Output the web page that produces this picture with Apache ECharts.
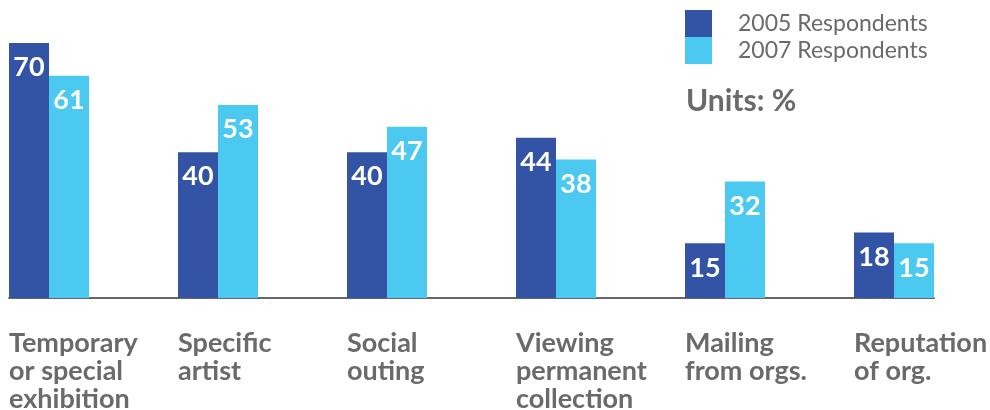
<!DOCTYPE html>
<html>
<head>
<meta charset="utf-8">
<script src="https://cdn.jsdelivr.net/npm/echarts@6/dist/echarts.min.js"></script>
<style>
  html, body { margin: 0; padding: 0; background: #ffffff; }
  #chart { width: 990px; height: 410px; }
</style>
</head>
<body>
<div id="chart"></div>
<script>
// Reasons for visiting, share of respondents (%)
const categories = [
  'Temporary\nor special\nexhibition',
  'Specific\nartist',
  'Social\nouting',
  'Viewing\npermanent\ncollection',
  'Mailing\nfrom orgs.',
  'Reputation\nof org.'
];
const respondents2005 = [70, 40, 40, 44, 15, 18];
const respondents2007 = [61, 53, 47, 38, 32, 15];
const seriesNames = ['2005 Respondents', '2007 Respondents'];
const unitsLabel = 'Units: %';

const DARK = '#3354a5';
const LIGHT = '#4bc9f1';
const GREY = '#6a6a6a';
const FONT = 'Lato';

const chart = echarts.init(document.getElementById('chart'), null, { renderer: 'canvas' });

const valueLabel = {
  show: true,
  position: 'insideTop',
  distance: 11,
  color: '#ffffff',
  fontFamily: FONT,
  fontWeight: 'bold',
  fontSize: 27
};

chart.setOption({
  animation: false,
  backgroundColor: '#ffffff',
  title: {
    text: unitsLabel,
    left: 686,
    top: 86,
    padding: 0,
    textStyle: { fontFamily: FONT, fontWeight: 'bold', fontSize: 30, color: GREY }
  },
  legend: {
    orient: 'vertical',
    left: 685,
    top: 10,
    padding: 0,
    itemWidth: 27,
    itemHeight: 27,
    itemGap: 0,
    icon: 'rect',
    data: seriesNames,
    textStyle: { fontFamily: FONT, fontSize: 23, color: GREY, padding: [0, 0, 0, 21] }
  },
  grid: [
    // bars
    { left: 49, right: 96, top: 43, bottom: 112, outerBoundsMode: 'none', containLabel: false },
    // baseline under the bars
    { left: 9, right: 56, top: 43, bottom: 112, outerBoundsMode: 'none', containLabel: false }
  ],
  xAxis: [
    {
      type: 'category',
      gridIndex: 0,
      data: categories,
      boundaryGap: false,
      axisLine: { show: false },
      axisTick: { show: false },
      axisLabel: {
        interval: 0,
        align: 'left',
        verticalAlign: 'top',
        padding: [0, 0, 0, -40],
        margin: 31,
        fontFamily: FONT,
        fontWeight: 'bold',
        fontSize: 27,
        lineHeight: 28,
        color: GREY
      }
    },
    {
      type: 'category',
      gridIndex: 1,
      data: [''],
      axisLine: { show: true, lineStyle: { color: '#676767', width: 2 } },
      axisTick: { show: false },
      axisLabel: { show: false }
    }
  ],
  yAxis: [
    { type: 'value', gridIndex: 0, min: 0, max: 70, show: false },
    { type: 'value', gridIndex: 1, min: 0, max: 70, show: false }
  ],
  series: [
    {
      name: seriesNames[0],
      type: 'bar',
      xAxisIndex: 0,
      yAxisIndex: 0,
      data: respondents2005,
      barWidth: 40,
      barGap: '0%',
      clip: false,
      itemStyle: { color: DARK },
      label: valueLabel
    },
    {
      name: seriesNames[1],
      type: 'bar',
      xAxisIndex: 0,
      yAxisIndex: 0,
      data: respondents2007,
      barWidth: 40,
      barGap: '0%',
      clip: false,
      itemStyle: { color: LIGHT },
      label: valueLabel
    }
  ]
});
</script>
</body>
</html>
